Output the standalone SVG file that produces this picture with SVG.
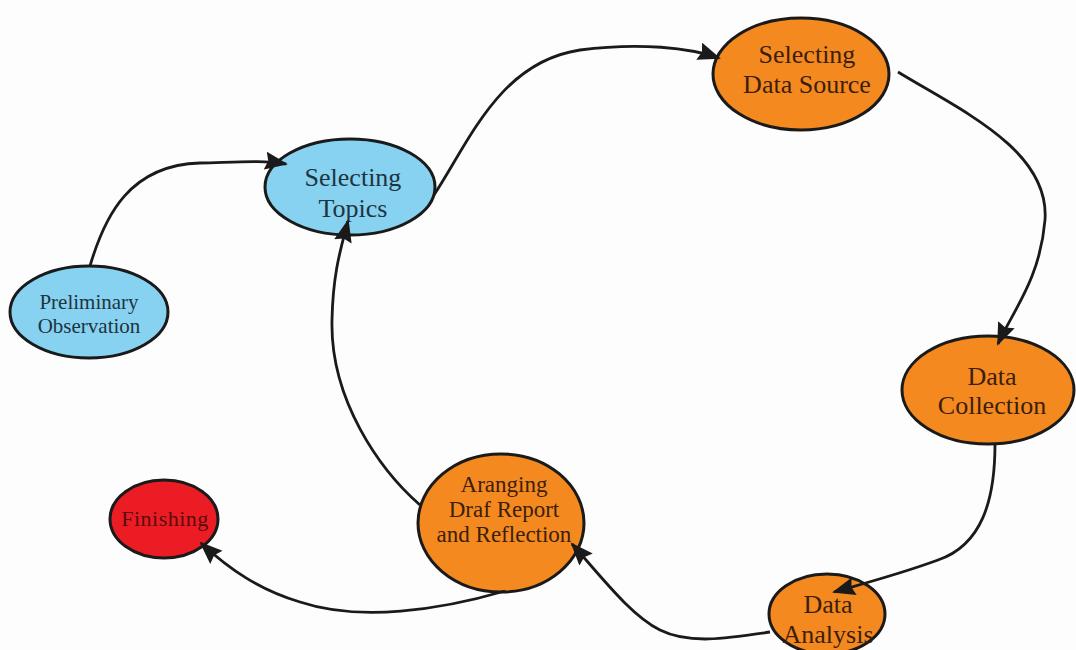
<svg xmlns="http://www.w3.org/2000/svg" width="1076" height="650" viewBox="0 0 1076 650">
<style>
.n{stroke:#1a1a1a;stroke-width:3}
.blue{fill:#87d2f0}
.orange{fill:#f4891f}
.red{fill:#ec1c24}
.t{font-family:"Liberation Serif",serif;text-anchor:middle}
.tb{fill:#1e3440}
.to{fill:#3b1e0c}
.tr{fill:#5a0c0c}
.c{fill:none;stroke:#1a1a1a;stroke-width:2.8}
</style>
<defs>
<marker id="ah" markerWidth="26" markerHeight="20" refX="21" refY="9" orient="auto" markerUnits="userSpaceOnUse">
<path d="M0,0 L23,9 L0,18 L3,9 Z" fill="#1a1a1a"/>
</marker>
</defs>
<rect width="1076" height="650" fill="#fdfdfd"/>
<g id="prelim">
<ellipse class="n blue" cx="89" cy="312" rx="79" ry="46"/>
<text class="t tb" x="89" y="309" font-size="21">Preliminary</text>
<text class="t tb" x="89" y="333" font-size="21">Observation</text>
</g>
<g id="topics">
<ellipse class="n blue" cx="350" cy="187" rx="85" ry="48"/>
<text class="t tb" x="353" y="186" font-size="26">Selecting</text>
<text class="t tb" x="353" y="217" font-size="26">Topics</text>
</g>
<g id="datasource">
<ellipse class="n orange" cx="801" cy="74" rx="88" ry="56"/>
<text class="t to" x="807" y="63" font-size="26">Selecting</text>
<text class="t to" x="807" y="93" font-size="26">Data Source</text>
</g>
<g id="collection">
<ellipse class="n orange" cx="988" cy="390" rx="86" ry="54"/>
<text class="t to" x="992" y="385" font-size="26">Data</text>
<text class="t to" x="992" y="414" font-size="26">Collection</text>
</g>
<g id="aranging">
<ellipse class="n orange" cx="501" cy="523" rx="83" ry="69"/>
<text class="t to" x="504" y="492" font-size="23">Aranging</text>
<text class="t to" x="504" y="517" font-size="23">Draf Report</text>
<text class="t to" x="504" y="542" font-size="23">and Reflection</text>
</g>
<g id="analysis">
<ellipse class="n orange" cx="827" cy="614" rx="58" ry="40"/>
<text class="t to" x="828" y="613" font-size="26">Data</text>
<text class="t to" x="828" y="643" font-size="26">Analysis</text>
</g>
<g id="finishing">
<ellipse class="n red" cx="164" cy="519" rx="54" ry="39"/>
<text class="t tr" x="165" y="526" font-size="22" letter-spacing="0.5">Finishing</text>
</g>
<g id="connectors">
<path class="c" marker-end="url(#ah)" d="M90,266 C105,215 130,165 200,163 C240,162 262,160 286,164"/>
<path class="c" marker-end="url(#ah)" d="M434,195 C470,140 500,62 580,50 C640,42 690,48 719,58"/>
<path class="c" marker-end="url(#ah)" d="M898,72 C960,110 1050,150 1045,220 C1040,280 1012,312 998,344"/>
<path class="c" marker-end="url(#ah)" d="M995,444 C995,500 982,545 938,560 C900,574 862,584 834,592"/>
<path class="c" marker-end="url(#ah)" d="M770,632 C730,638 690,645 660,630 C630,615 600,575 572,544"/>
<path class="c" marker-end="url(#ah)" d="M420,505 C380,470 330,400 332,320 C333,270 342,245 348,221"/>
<path class="c" marker-end="url(#ah)" d="M505,591 C440,610 360,622 300,602 C260,590 230,570 201,543"/>
</g>
</svg>
